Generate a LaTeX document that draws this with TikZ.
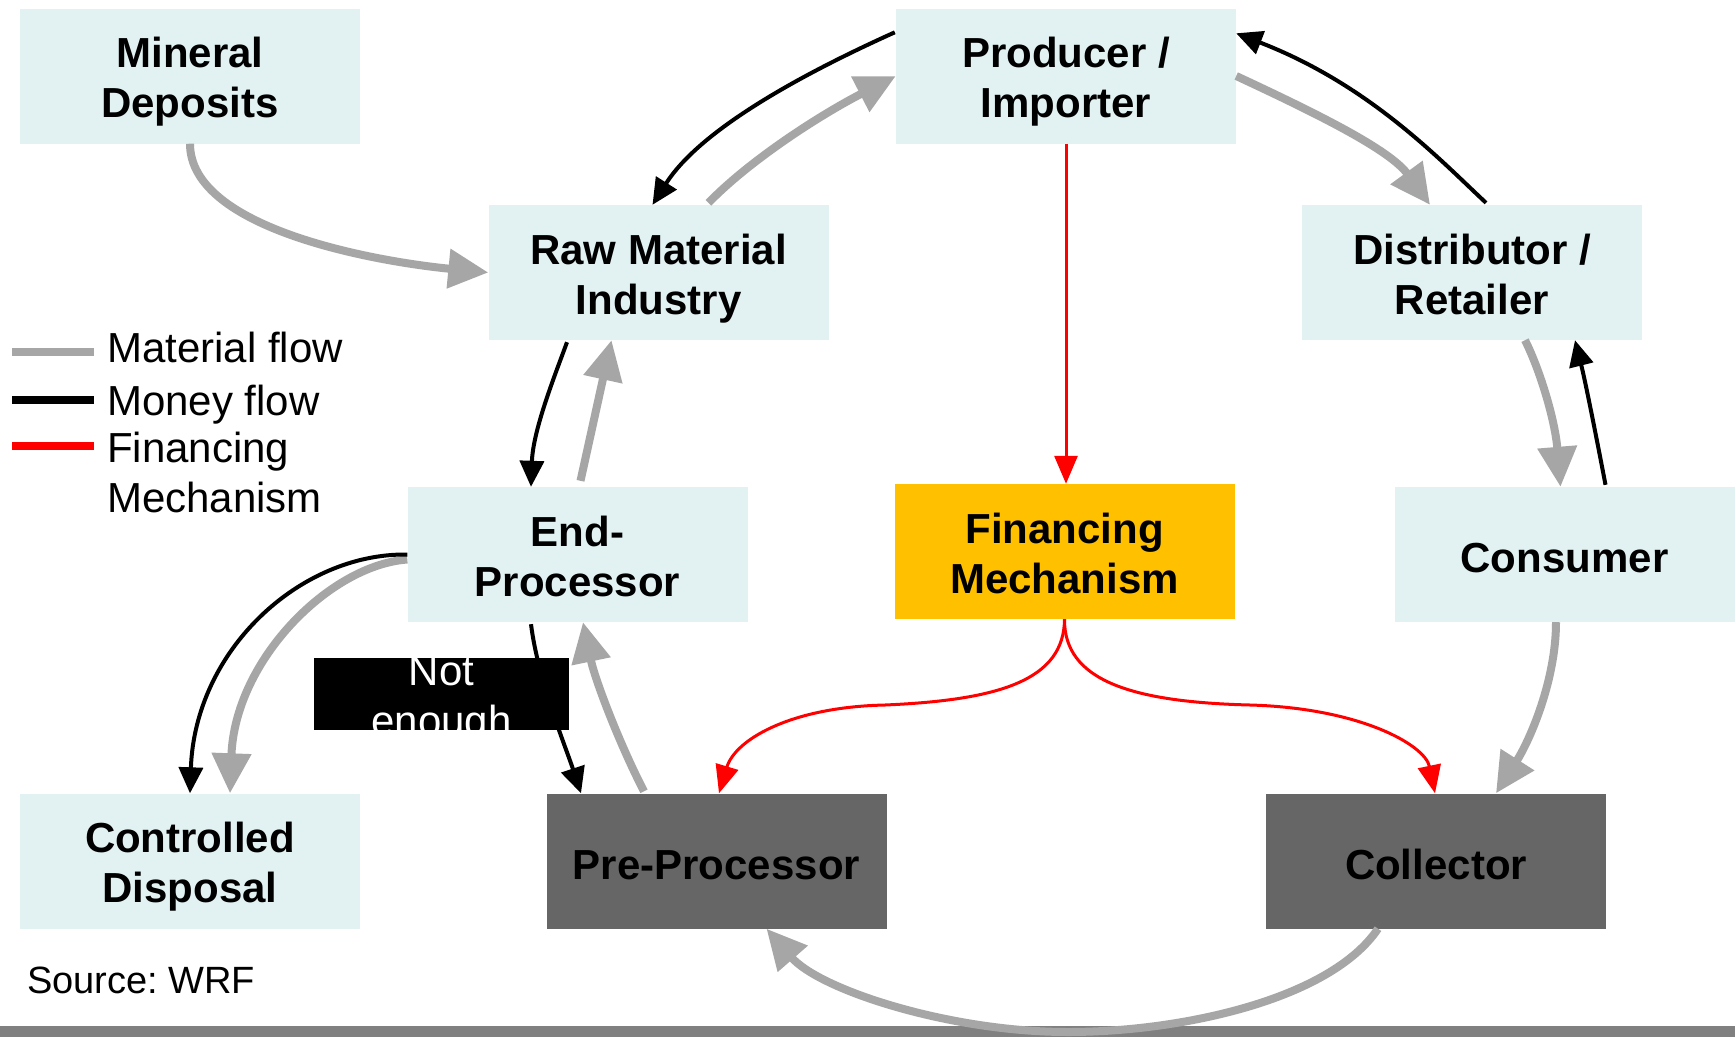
\documentclass[tikz,border=0pt]{standalone}
\usepackage{fontspec}
\setmainfont{Liberation Sans}
\usetikzlibrary{arrows.meta,calc}
\definecolor{boxc}{RGB}{226,242,243}
\definecolor{matc}{RGB}{166,166,166}
\definecolor{finc}{RGB}{255,192,0}
\definecolor{ppc}{RGB}{102,102,102}
\definecolor{barc}{RGB}{128,128,128}
\frenchspacing
\begin{document}
\begin{tikzpicture}[x=1pt,y=-1pt,
  box/.style={fill=boxc, inner sep=0pt, minimum width=340pt, minimum height=135pt, align=center, text height=83pt, text depth=0pt, font=\fontsize{42}{50}\selectfont\bfseries},
  oneline/.style={text height=36.6pt, text depth=0pt},
  matflow/.style={draw=matc, line width=8pt, -{Triangle[length=40pt,width=38pt]}},
  monflow/.style={draw=black, line width=4pt, -{Triangle[length=26pt,width=24pt]}},
  finflow/.style={draw=red, line width=3pt, -{Triangle[length=28pt,width=23pt]}},
  legline/.style={line width=8pt},
  legtext/.style={font=\fontsize{42}{50}\selectfont, anchor=base west, inner sep=0pt},
  netext/.style={font=\fontsize{42}{50}\selectfont, text=white, anchor=base, inner sep=0pt}]
\useasboundingbox (0,0) rectangle (1735,1037);
\fill[white] (0,0) rectangle (1735,1037);
\fill[barc] (0,1026) rectangle (1735,1037);

% boxes
\node[box] (md) at (190,76) {Mineral\\Deposits};
\node[box] (pi) at (1066,76) {Producer /\\Importer};
\node[box] (rm) at (658.5,272.5) {Raw Material\\Industry};
\node[box] (dr) at (1472,272.5) {Distributor /\\Retailer};
\node[box] (ep) at (577.5,554.5) {End-\\Processor};
\node[box, fill=finc] (fm) at (1064.5,551.5) {Financing\\Mechanism};
\node[box, oneline] (co) at (1564.5,554.5) {Consumer};
\node[box] (cd) at (190,861) {Controlled\\Disposal};
\node[box, oneline, fill=ppc] (pp) at (716.5,861) {Pre-Processor};
\node[box, oneline, fill=ppc] (cl) at (1436,861) {Collector};

% material flows
\draw[matflow] (md.south) .. controls (190,230) and (380,262) .. (rm.west);
\draw[matflow] ($(rm.north)+(50,-2)$) .. controls (750,160) and (820,115) .. (pi.west);
\draw[matflow] (pi.east) .. controls (1320,115) and (1390,150) .. ($(dr.north)+(-42,0)$);
\draw[matflow] ($(dr.south)+(53,0)$) .. controls (1540,370) and (1555,420) .. ($(co.north)+(-4,0)$);
\draw[matflow] ($(co.south)+(-8.5,0)$) .. controls (1556,680) and (1530,740) .. ($(cl.north)+(60,0)$);
\draw[matflow] ($(cl.south)+(-58,0)$) .. controls (1330,1000) and (1180,1032) .. (1068,1032) .. controls (950,1032) and (820,990) .. ($(pp.south)+(50,0)$);
\draw[matflow] ($(pp.north)+(-72.5,-2)$) .. controls (620,745) and (595,680) .. ($(ep.south)+(5.5,0)$);
\draw[matflow] ($(ep.north)+(3,-6)$) -- ($(rm.south)+(-47,0)$);
\draw[matflow] ($(ep.west)+(0,5)$) .. controls (330,565) and (235,660) .. ($(cd.north)+(40,0)$);

% money flows
\draw[monflow] ($(pi.north west)+(-1,24)$) .. controls (800,75) and (700,130) .. ($(rm.north)+(-6,0)$);
\draw[monflow] ($(dr.north)+(14,-2)$) .. controls (1440,160) and (1370,85) .. ($(pi.north east)+(0,25)$);
\draw[monflow] ($(co.north)+(41,-2)$) .. controls (1595,430) and (1585,380) .. ($(dr.south)+(103,0)$);
\draw[monflow] ($(rm.south)+(-91.5,2)$) .. controls (555,375) and (533,430) .. ($(ep.north)+(-46.5,0)$);
\draw[monflow] ($(ep.south)+(-46.5,2)$) .. controls (538,680) and (565,745) .. ($(pp.north)+(-135.5,0)$);
\draw[monflow] (ep.west) .. controls (300,553) and (195,650) .. (cd.north);

% financing flows
\draw[finflow] (pi.south) -- (pi.south |- fm.north);
\draw[finflow] (fm.south) .. controls (1064,680) and (1000,700) .. (885,705) .. controls (790,707) and (735,740) .. ($(pp.north)+(2.5,0)$);
\draw[finflow] (fm.south) .. controls (1064,680) and (1130,702) .. (1250,705) .. controls (1360,708) and (1425,745) .. ($(cl.north)+(-1,0)$);

% not enough label
\node[fill=black, minimum width=255pt, minimum height=72pt, inner sep=0pt] (ne) at (441.5,694) {};
\begin{scope}
\clip (ne.south west) rectangle (ne.north east);
\node[netext] (ne1) at (441.5,685) {Not};
\node[netext] (ne2) at (441.5,735) {enough};
\end{scope}

% legend
\draw[legline, matc] (12,352) -- (94,352);
\draw[legline, black] (12,400) -- (94,400);
\draw[legline, red] (12,446) -- (94,446);
\node[legtext] (l1) at (107,362) {Material flow};
\node[legtext] (l2) at (107,415) {Money flow};
\node[legtext] (l3) at (107,462) {Financing};
\node[legtext] (l4) at (107,512) {Mechanism};

% source
\node[font=\fontsize{38}{45}\selectfont, anchor=base west, inner sep=0pt] (src) at (27,993) {Source: WRF};
\end{tikzpicture}
\end{document}
